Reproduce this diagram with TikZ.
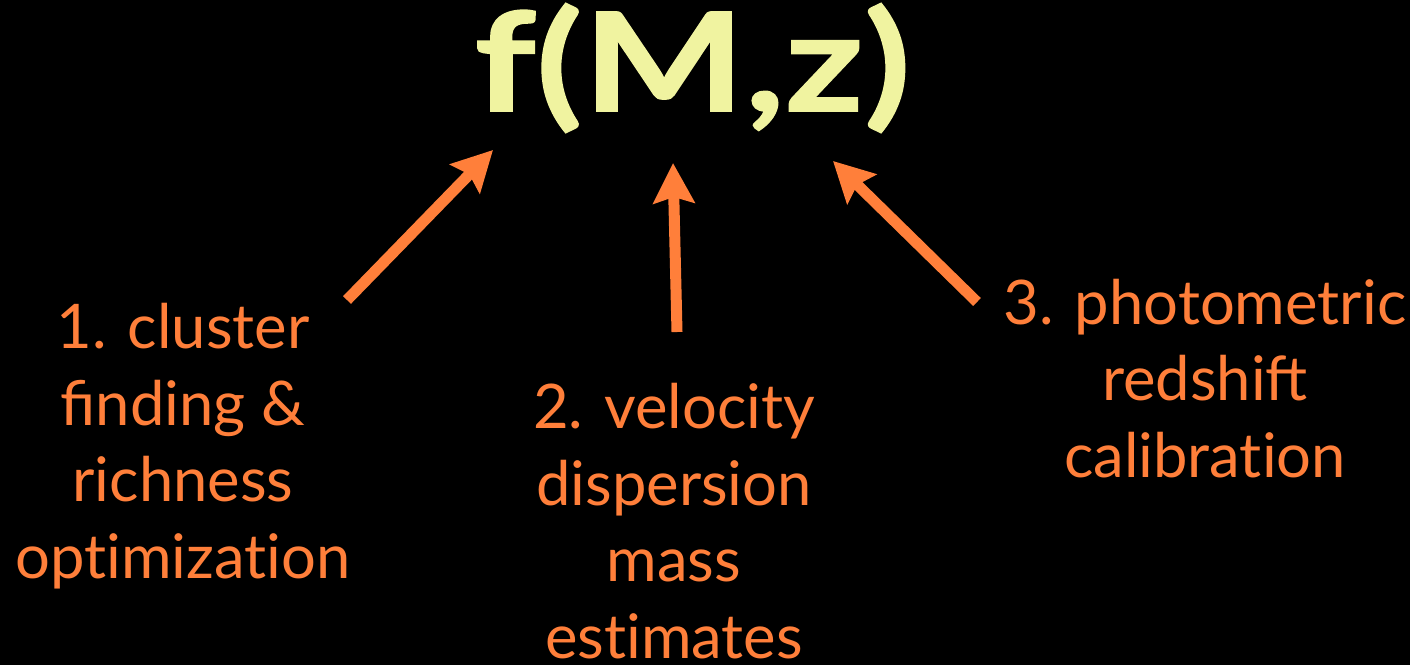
\documentclass[tikz,border=0pt]{standalone}
\usepackage{fontspec}
\setmainfont{Lato}
\newfontfamily\titlefont[FakeStretch=1.25, FakeBold=1.2]{Lato}
\usetikzlibrary{arrows.meta}
\definecolor{fmzyellow}{RGB}{240,243,160}
\definecolor{fmzorange}{RGB}{255,127,58}
\newcommand{\noli}{\hbox{}}
\tikzset{
  item/.style={text=fmzorange, align=center, anchor=base, inner sep=0pt,
    font=\fontsize{35}{43.5}\selectfont},
  feed/.style={draw=fmzorange, line width=0.22cm,
    -{Stealth[length=0.8cm, width=0.82cm, inset=0.12cm]}}
}

\begin{document}
\begin{tikzpicture}
  \fill[black] (0,0) rectangle (28.2,-13.3);
  \useasboundingbox (0,0) rectangle (28.2,-13.3);
  % --- title ---
  \node[text=fmzyellow, anchor=base, inner sep=0pt,
        font=\fontsize{78}{90}\titlefont\bfseries] (fmz) at (13.85,-2.22) {f(M,z)};
  % --- the three ingredients (anchored on their last line) ---
  \node[item] (cluster) at (3.66,-11.56) {1. cluster\\finding \&\\richness\\opt\noli imizat\noli ion};
  \node[item] (veldisp) at (13.48,-13.16) {2. velocity\\dispersion\\mass\\est\noli imates};
  \node[item] (photoz) at (24.10,-9.54) {3. photometric\\redshift\\calibrat\noli ion};
  % --- arrow ends ---
  \coordinate (c-tail) at (6.94,-6.00);
  \coordinate (c-tip)  at (9.86,-3.00);
  \coordinate (v-tail) at (13.54,-6.64);
  \coordinate (v-tip)  at (13.46,-3.26);
  \coordinate (p-tail) at (19.54,-6.04);
  \coordinate (p-tip)  at (16.66,-3.22);
  \draw[feed] (c-tail) -- (c-tip);
  \draw[feed] (v-tail) -- (v-tip);
  \draw[feed] (p-tail) -- (p-tip);
\end{tikzpicture}
\end{document}
